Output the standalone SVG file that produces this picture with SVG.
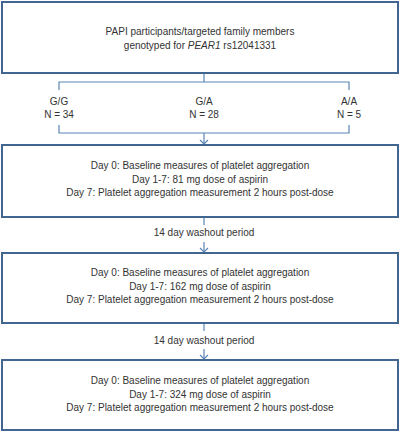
<svg xmlns="http://www.w3.org/2000/svg" width="400" height="433" viewBox="0 0 400 433">
<style>
.box{fill:#fff;stroke:#41668f;stroke-width:2}
.c{fill:none;stroke:#5a85b5;stroke-width:1.2}
text{font-family:"Liberation Sans",Arial,sans-serif;font-size:10px;fill:#333;text-anchor:middle}
</style>
<rect width="400" height="433" fill="#fff"/>
<g id="connectors">
<path class="c" d="M204 73V82M59 90V82H349V90"/>
<path class="c" d="M59 125V133H349V125M204 133V144"/>
<path class="c" d="M200 140L204 144L208 140"/>
<path class="c" d="M204 217V225M204 242V252"/>
<path class="c" d="M200 248L204 252L208 248"/>
<path class="c" d="M204 323V331M204 349V359"/>
<path class="c" d="M200 355L204 359L208 355"/>
</g>
<g id="labels">
<text x="59" y="105">G/G</text><text x="59" y="118">N = 34</text>
<text x="204" y="105">G/A</text><text x="204" y="118">N = 28</text>
<text x="349" y="105">A/A</text><text x="349" y="118">N = 5</text>
<text x="204" y="236">14 day washout period</text>
<text x="204" y="344">14 day washout period</text>
</g>
<g id="n1">
<rect class="box" x="2" y="2" width="396" height="71"/>
<text x="200" y="35">PAPI participants/targeted family members</text>
<text x="200" y="49">genotyped for <tspan font-style="italic">PEAR1</tspan> rs12041331</text>
</g>
<g id="n2">
<rect class="box" x="2" y="145" width="396" height="72"/>
<text x="200" y="169">Day 0: Baseline measures of platelet aggregation</text>
<text x="200" y="182.5">Day 1-7: 81 mg dose of aspirin</text>
<text x="200" y="196">Day 7: Platelet aggregation measurement 2 hours post-dose</text>
</g>
<g id="n3">
<rect class="box" x="2" y="253" width="396" height="70"/>
<text x="200" y="276">Day 0: Baseline measures of platelet aggregation</text>
<text x="200" y="289.5">Day 1-7: 162 mg dose of aspirin</text>
<text x="200" y="303">Day 7: Platelet aggregation measurement 2 hours post-dose</text>
</g>
<g id="n4">
<rect class="box" x="2" y="360" width="396" height="70"/>
<text x="200" y="384">Day 0: Baseline measures of platelet aggregation</text>
<text x="200" y="397.5">Day 1-7: 324 mg dose of aspirin</text>
<text x="200" y="411">Day 7: Platelet aggregation measurement 2 hours post-dose</text>
</g>
</svg>
